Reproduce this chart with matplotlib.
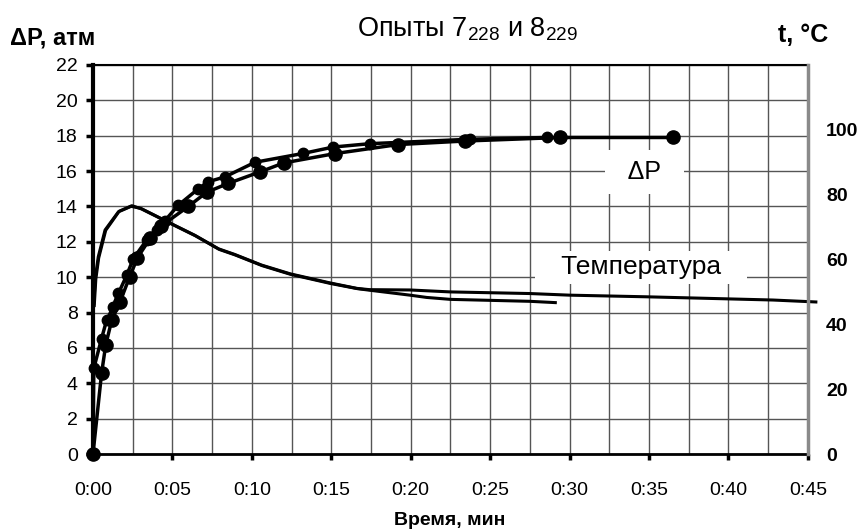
import matplotlib
matplotlib.use("Agg")
import matplotlib.pyplot as plt
from matplotlib.ticker import MultipleLocator, FuncFormatter

plt.rcParams['font.family'] = ['Liberation Sans', 'DejaVu Sans']
plt.rcParams['mathtext.default'] = 'regular'

# Данные: время в минутах, перепад давления в атм, температура в °C
t_dp7 = [0, 0.05, 0.54, 0.86, 1.28, 1.6, 2.12, 2.54, 3.38, 4.0, 4.53, 5.37, 6.63,
         7.26, 8.3, 10.2, 13.24, 15.12, 17.43, 23.7, 28.55]
dp7 = [0, 4.84, 6.53, 7.57, 8.32, 9.08, 10.1, 11.05, 12.1, 12.66, 13.2, 14.07, 15.0,
       15.4, 15.67, 16.5, 17.0, 17.36, 17.55, 17.8, 17.9]

t_dp8 = [0, 0.54, 0.8, 1.18, 1.7, 2.3, 2.8, 3.6, 4.3, 6.0, 7.15, 8.5, 10.5, 12.0,
         15.23, 19.2, 23.4, 29.4, 36.5]
dp8 = [0, 4.56, 6.16, 7.57, 8.6, 10.0, 11.1, 12.2, 12.9, 14.0, 14.8, 15.3, 15.95,
       16.46, 16.99, 17.5, 17.7, 17.9, 17.9]

t_temp7 = [0.05, 0.15, 0.33, 0.76, 1.6, 2.4, 3.0, 3.9, 5.2, 6.4, 7.9, 8.9, 10.6,
           12.4, 14.9, 16.6, 17.4, 19.95, 22.5, 27.5, 30.0, 34.8, 42.8, 45.5]
temp7 = [46.4, 54.5, 60.8, 69.1, 74.7, 76.4, 75.8, 73.6, 70.4, 67.5, 63.3, 61.6, 58.3,
         55.6, 52.8, 51.1, 50.7, 50.6, 50.0, 49.5, 49.0, 48.5, 47.5, 46.9]

t_temp8 = [0.08, 0.18, 0.36, 0.8, 1.65, 2.45, 3.05, 3.95, 5.25, 6.45, 7.95, 8.95, 10.65,
           12.45, 14.95, 16.65, 17.45, 19.95, 21.0, 22.5, 27.5, 29.1]
temp8 = [45.8, 54.0, 60.5, 69.0, 74.9, 76.6, 75.6, 73.4, 70.2, 67.3, 63.1, 61.4, 58.1,
         55.4, 52.6, 51.0, 50.5, 49.0, 48.3, 47.7, 47.1, 46.7]

x_ticks = [0, 5, 10, 15, 20, 25, 30, 35, 40, 45]

fig = plt.figure(figsize=(8.65, 5.31), dpi=100)
ax = fig.add_axes([0.1075, 0.145, 0.8265, 0.7326])
ax2 = ax.twinx()

# сетка
ax.set_xlim(0, 45)
ax.set_ylim(0, 22)
ax.xaxis.set_major_locator(MultipleLocator(5))
ax.xaxis.set_minor_locator(MultipleLocator(2.5))
ax.yaxis.set_major_locator(MultipleLocator(2))
ax.grid(True, which='both', axis='x', color='#555555', lw=1.0)
ax.grid(True, which='major', axis='y', color='#555555', lw=1.0)
ax.set_axisbelow(True)
ax.set_xticks(x_ticks)
ax.xaxis.set_major_formatter(FuncFormatter(lambda v, p: "0:%02d" % int(round(v))))
ax.tick_params(axis='x', which='major', direction='out', length=4, width=2.5,
               labelsize=14, pad=16)
ax.tick_params(axis='x', which='minor', length=0)
ax.tick_params(axis='y', direction='out', length=5, width=2.5, labelsize=14, pad=6)

ax.spines['left'].set_linewidth(3)
ax.spines['bottom'].set_linewidth(2)
ax.spines['top'].set_linewidth(1.5)
ax.spines['right'].set_visible(False)

# ΔP
ax.plot(t_dp8, dp8, color='black', lw=2.5, marker='o', ms=9.5, zorder=3, clip_on=False)
ax.plot(t_dp7, dp7, color='black', lw=2.5, marker='o', ms=7.5, zorder=3, clip_on=False)

# температура
ax2.set_ylim(0, 120)
ax2.set_yticks([0, 20, 40, 60, 80, 100])
ax2.tick_params(axis='y', length=0, pad=13, labelsize=14)
for lab in ax2.get_yticklabels():
    lab.set_fontweight('bold')
ax2.spines['right'].set_color('#8a8a8a')
ax2.spines['right'].set_linewidth(2.5)
ax2.spines['right'].set_zorder(5)
for s in ['left', 'top', 'bottom']:
    ax2.spines[s].set_visible(False)
ax2.plot(t_temp8, temp8, color='black', lw=2.2, zorder=3)
ax2.plot(t_temp7, temp7, color='black', lw=2.2, zorder=3, clip_on=False)

# подписи
ax.text(34.7, 15.95, "  ΔP  ", fontsize=18, ha='center', va='center', zorder=2,
        bbox=dict(facecolor='white', edgecolor='none', pad=7))
ax.text(34.5, 10.56, "   Температура   ", fontsize=19, ha='center', va='center', zorder=2,
        bbox=dict(facecolor='white', edgecolor='none', pad=3))

fig.text(0.54, 0.945, "Опыты 7$_{228}$ и 8$_{229}$", fontsize=19.5, ha='center', va='center')
fig.text(0.012, 0.928, "ΔP, атм", fontsize=17, fontweight='bold', ha='left', va='center')
fig.text(0.9, 0.935, "t, °C", fontsize=18, fontweight='bold', ha='left', va='center')
fig.text(0.52, 0.02, "Время, мин", fontsize=14, fontweight='bold', ha='center', va='center')

fig.savefig("out.png", dpi=100)
